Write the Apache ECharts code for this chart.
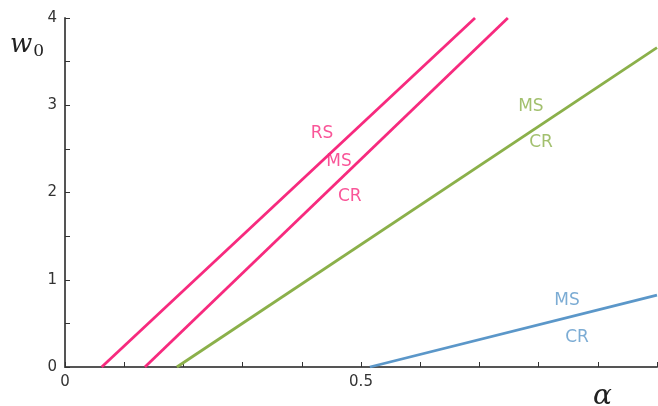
<!DOCTYPE html>
<html><head><meta charset="utf-8">
<script src="https://cdn.jsdelivr.net/npm/echarts@6/dist/echarts.min.js"></script>
<style>html,body{margin:0;padding:0;background:#fff;overflow:hidden}#c{width:658px;height:406px}</style>
</head><body><div id="c"></div>
<script>
// line endpoints [alpha, w0]
const lineRS  = [[0.062, 0], [0.6926, 4]];
const lineMSp = [[0.135, 0], [0.748, 4]];
const lineG   = [[0.189, 0], [1.0, 3.66]];
const lineB   = [[0.515, 0], [1.0, 0.825]];
// annotation labels [alpha, w0, text]
const labelsPink  = [[0.434, 2.67, 'RS'], [0.463, 2.36, 'MS'], [0.481, 1.95, 'CR']];
const labelsGreen = [[0.787, 2.99, 'MS'], [0.804, 2.57, 'CR']];
const labelsBlue  = [[0.848, 0.756, 'MS'], [0.865, 0.332, 'CR']];
const xTickLabels = ['0', '0.5', '1'];
const yTickLabels = ['0', '1', '2', '3', '4'];

const PINK = '#f72a7e', GREEN = '#8bb04a', BLUE = '#5b97c9', AX = '#555';

function lineSeries(d, c) {
  return {type: 'line', data: d, symbol: 'none', lineStyle: {color: c, width: 2.8}, z: 3};
}
function labelSeries(d, c) {
  return {type: 'scatter', data: d, symbolSize: 0, z: 4,
    label: {show: true, position: 'inside', formatter: p => p.data[2], color: c,
      fontSize: 17, fontFamily: 'DejaVu Sans'}};
}
const chart = echarts.init(document.getElementById('c'));
chart.setOption({
  animation: false,
  grid: {left: 65, right: 1, top: 18, bottom: 39, containLabel: false, outerBoundsMode: 'none'},
  xAxis: {type: 'value', min: 0, max: 1, interval: 0.5,
    axisLine: {show: true, onZero: false, lineStyle: {color: AX, width: 2}},
    axisTick: {show: true, inside: true, length: 5, lineStyle: {color: '#333', width: 1}},
    minorTick: {show: true, splitNumber: 5, length: 5, lineStyle: {color: '#333', width: 1}},
    splitLine: {show: false},
    axisLabel: {color: '#333', fontSize: 15, fontFamily: 'DejaVu Sans', margin: 8, alignMaxLabel: 'left',
      formatter: v => { const i = Math.round(v * 2); return xTickLabels[i] !== undefined ? xTickLabels[i] : ''; }}
  },
  yAxis: {type: 'value', min: 0, max: 4, interval: 1,
    axisLine: {show: true, onZero: false, lineStyle: {color: AX, width: 2}},
    axisTick: {show: true, inside: true, length: 5, lineStyle: {color: '#333', width: 1}},
    minorTick: {show: true, splitNumber: 2, length: 5, lineStyle: {color: '#333', width: 1}},
    splitLine: {show: false},
    axisLabel: {color: '#333', fontSize: 15, fontFamily: 'DejaVu Sans', margin: 8,
      formatter: v => yTickLabels[Math.round(v)]}
  },
  graphic: [
    {type: 'text', left: 10, top: 32, style: {
      text: '{w|w}{s|0}', rich: {
        w: {fontFamily: 'DejaVu Serif', fontStyle: 'italic', fontSize: 26, fill: '#222'},
        s: {fontFamily: 'DejaVu Serif', fontSize: 17, fill: '#222', padding: [14, 0, 0, 1]}
      }}},
    {type: 'text', left: 593, top: 383, style: {
      text: 'α', font: 'italic 28px "DejaVu Serif"', fill: '#222'}}
  ],
  series: [
    lineSeries(lineRS, PINK), lineSeries(lineMSp, PINK),
    lineSeries(lineG, GREEN), lineSeries(lineB, BLUE),
    labelSeries(labelsPink, PINK), labelSeries(labelsGreen, GREEN), labelSeries(labelsBlue, BLUE)
  ]
});
</script></body></html>
